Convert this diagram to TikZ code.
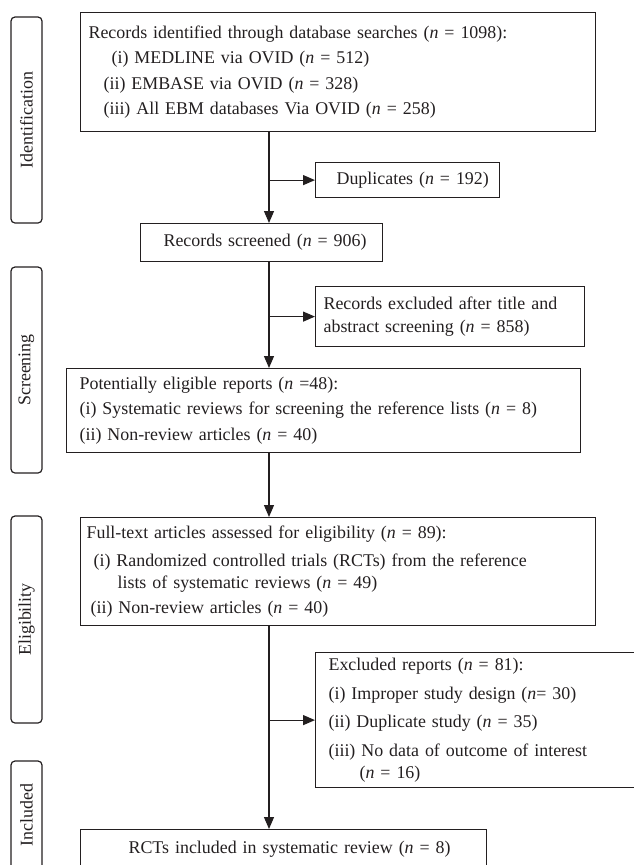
\documentclass[tikz,border=0pt]{standalone}
\usepackage{fontspec}
\setmainfont{Liberation Serif}
\usetikzlibrary{arrows.meta}
\definecolor{ink}{HTML}{231F20}
\begin{document}
\begin{tikzpicture}[x=1pt,y=-1pt,
  txt/.style={font=\fontsize{17.9}{22}\selectfont, text=ink},
  fbox/.style args={#1/#2}{txt, draw=ink, line width=1.2pt, inner xsep=0pt, inner ysep=0pt,
      anchor=north west, text width=#1pt, minimum height=#2pt, align=left},
  side/.style={txt, draw=ink, line width=1.2pt, rounded corners=4pt, rotate=90,
      inner sep=0pt, minimum height=31pt, anchor=center},
  conn/.style={draw=ink, line width=1.2pt, -{Triangle[length=12pt,width=10pt]}}
]
\useasboundingbox (0,0) rectangle (634,865);
\clip (0,0) rectangle (634,865);

% stage labels
\node[side, minimum width=206pt] (sIdent) at (26.5,120) {Identification};
\node[side, minimum width=206pt] (sScreen) at (26.5,370) {Screening};
\node[side, minimum width=207pt] (sElig) at (26.5,619.5) {Eligibility};
\node[side, minimum width=108pt] (sIncl) at (26.5,815) {Included};

% boxes
\node[fbox=515/119] (ident) at (80,12) {\hspace*{8pt}Records identified through database searches (\textit{n} = 1098):\\[3.5pt]
\hspace*{31pt}(i) MEDLINE via OVID (\textit{n} = 512)\\[3.5pt]
\hspace*{23pt}(ii) EMBASE via OVID (\textit{n} = 328)\\[3.5pt]
\hspace*{23pt}(iii) All EBM databases Via OVID (\textit{n} = 258)};

\node[fbox=184/35] (dup) at (315,162) {\hspace*{21pt}Duplicates (\textit{n} = 192)};

\node[fbox=242/38] (scr) at (140,223) {\hspace*{23pt}Records screened (\textit{n} = 906)};

\node[fbox=269/60] (rex) at (315,286) {\hspace*{8pt}Records excluded after title and\\[1pt]
\hspace*{8pt}abstract screening (\textit{n} = 858)};

\node[fbox=514/84] (pot) at (66,368) {\hspace*{13pt}Potentially eligible reports (\textit{n} =48):\\[3.5pt]
\hspace*{13pt}(i) Systematic reviews for screening the reference lists (\textit{n} = 8)\\[3.5pt]
\hspace*{13pt}(ii) Non-review articles (\textit{n} = 40)};

\node[fbox=515/108] (ft) at (80,517) {\hspace*{6pt}Full-text articles assessed for eligibility (\textit{n} = 89):\\[6pt]
\hspace*{13pt}(i) Randomized controlled trials (RCTs) from the reference\\
\hspace*{37pt}lists of systematic reviews (\textit{n} = 49)\\[3pt]
\hspace*{10pt}(ii) Non-review articles (\textit{n} = 40)};

\node[fbox=330/135] (exc) at (315,652) {\hspace*{13pt}Excluded reports (\textit{n} = 81):\\[7pt]
\hspace*{13pt}(i) Improper study design (\textit{n}= 30)\\[6pt]
\hspace*{13pt}(ii) Duplicate study (\textit{n} = 35)\\[7pt]
\hspace*{13pt}(iii) No data of outcome of interest\\
\hspace*{44pt}(\textit{n} = 16)};

\node[fbox=406/39] (rct) at (80,829) {\hspace*{48pt}RCTs included in systematic review (\textit{n} = 8)};

% connectors
\coordinate (sp) at (269,0);
\draw[conn] (ident.south -| sp) -- (scr.north -| sp);
\draw[conn] (dup.west -| sp) -- (dup.west);
\draw[conn] (scr.south -| sp) -- (pot.north -| sp);
\draw[conn] (rex.west -| sp) -- (rex.west);
\draw[conn] (pot.south -| sp) -- (ft.north -| sp);
\draw[conn] (ft.south -| sp) -- (rct.north -| sp);
\draw[conn] (exc.west -| sp) -- (exc.west);
\end{tikzpicture}
\end{document}
